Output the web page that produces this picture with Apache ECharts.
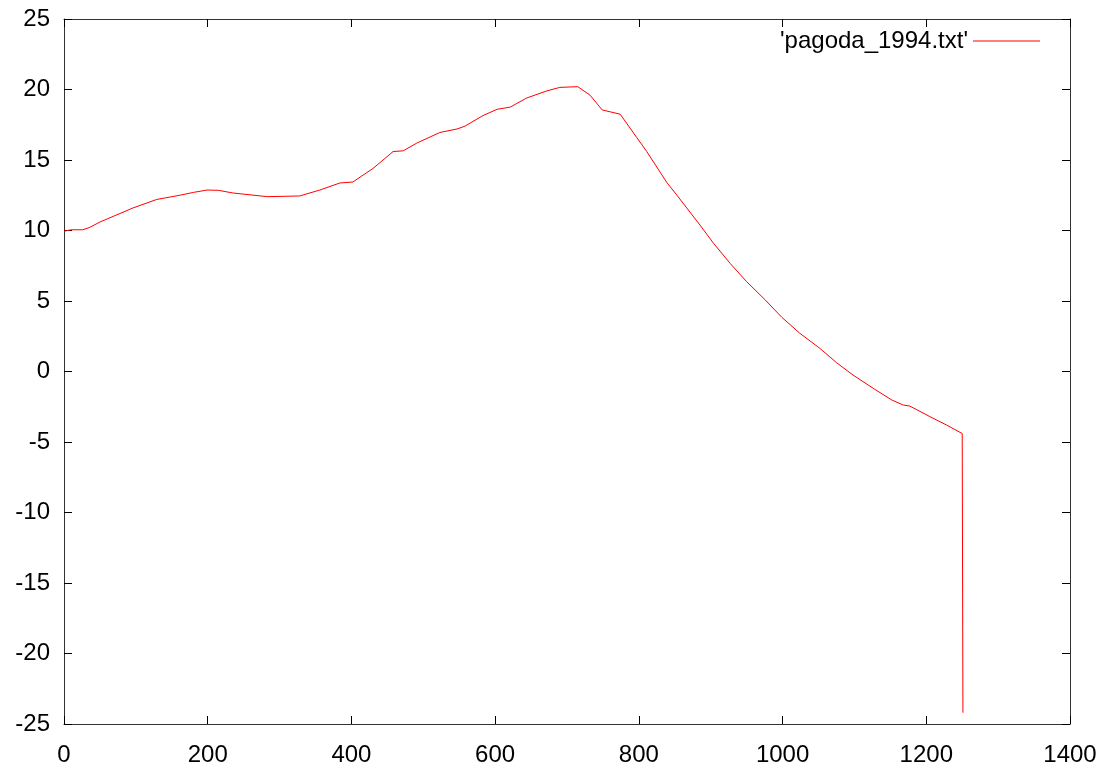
<!DOCTYPE html>
<html>
<head>
<meta charset="utf-8">
<title>pagoda_1994</title>
<script src="https://cdn.jsdelivr.net/npm/echarts@6/dist/echarts.min.js"></script>
<style>
  html, body { margin: 0; padding: 0; background: #ffffff; }
  #chart { width: 1109px; height: 771px; }
</style>
</head>
<body>
<div id="chart"></div>
<script>
// Series name shown in the key
const seriesName = "'pagoda_1994.txt'";

// Sample positions (x) and measured values (y)
const xValues = [
  0, 10, 26, 35, 50, 96, 129, 161, 180, 199, 215, 235, 283, 328, 356, 384, 402, 430,
  458, 472, 491, 523, 547, 558, 583, 603, 621, 644, 672, 690, 715, 732, 749, 774,
  797, 811, 839, 853, 885, 904, 927, 950, 976, 999, 1024, 1052, 1075, 1098, 1126,
  1152, 1168, 1177, 1205, 1228, 1250, 1251
];
const yValues = [
  9.95, 10.05, 10.05, 10.2, 10.6, 11.6, 12.2, 12.5, 12.7, 12.87, 12.85, 12.66, 12.4, 12.45, 12.87, 13.37, 13.44, 14.4,
  15.6, 15.65, 16.2, 16.95, 17.2, 17.4, 18.15, 18.6, 18.75, 19.4, 19.9, 20.15, 20.2, 19.6, 18.55, 18.25,
  16.6, 15.6, 13.4, 12.5, 10.39, 9.09, 7.67, 6.37, 5.07, 3.84, 2.71, 1.64, 0.63, -0.25, -1.19,
  -2.02, -2.38, -2.45, -3.2, -3.79, -4.4, -24.2
];

// Axis ranges and tick steps
const xTicks = { min: 0, max: 1400, step: 200 };
const yTicks = { min: -25, max: 25, step: 5 };

const points = xValues.map((x, i) => [x, yValues[i]]);

const fontFamily = '"Liberation Sans", Arial, sans-serif';
const frameColor = '#333333';
const plainNumber = (v) => String(v);

function makeXAxis(position, showLabels) {
  return {
    type: 'value',
    position: position,
    min: xTicks.min, max: xTicks.max, interval: xTicks.step,
    axisLine: { show: true, onZero: false, lineStyle: { color: frameColor, width: 1 } },
    axisTick: { show: true, inside: true, length: 8, lineStyle: { color: '#000000', width: 1 } },
    axisLabel: { show: showLabels, color: '#000000', fontFamily: fontFamily, fontSize: 24, margin: 19, formatter: plainNumber },
    splitLine: { show: false }
  };
}
function makeYAxis(position, showLabels) {
  return {
    type: 'value',
    position: position,
    min: yTicks.min, max: yTicks.max, interval: yTicks.step,
    axisLine: { show: true, onZero: false, lineStyle: { color: frameColor, width: 1 } },
    axisTick: { show: true, inside: true, length: 8, lineStyle: { color: '#000000', width: 1 } },
    axisLabel: { show: showLabels, color: '#000000', fontFamily: fontFamily, fontSize: 24, margin: 14, formatter: plainNumber },
    splitLine: { show: false }
  };
}

const chart = echarts.init(document.getElementById('chart'), null, { renderer: 'canvas' });
chart.setOption({
  animation: false,
  backgroundColor: '#ffffff',
  grid: { left: 64, top: 19, right: 39, bottom: 47, containLabel: false },
  legend: {
    show: true,
    right: 69,
    top: 29,
    padding: 0,
    align: 'right',
    selectedMode: false,
    icon: 'rect',
    itemWidth: 67,
    itemHeight: 1,
    textStyle: { color: '#000000', fontFamily: fontFamily, fontSize: 24 },
    data: [seriesName]
  },
  xAxis: [makeXAxis('bottom', true), makeXAxis('top', false)],
  yAxis: [makeYAxis('left', true), makeYAxis('right', false)],
  series: [{
    name: seriesName,
    type: 'line',
    xAxisIndex: 0,
    yAxisIndex: 0,
    data: points,
    showSymbol: false,
    symbol: 'none',
    lineStyle: { color: '#ff0000', width: 1 },
    itemStyle: { color: '#ff0000' }
  }]
});
</script>
</body>
</html>
